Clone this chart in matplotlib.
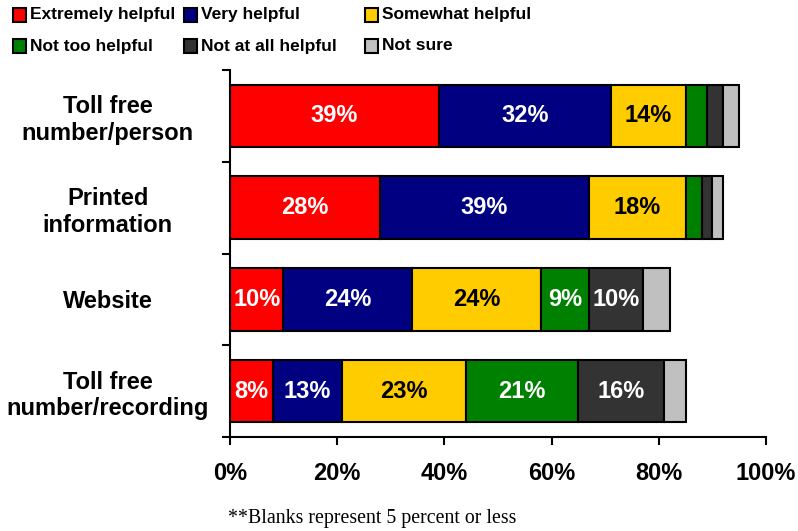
import numpy as np
import matplotlib.pyplot as plt
from matplotlib.patches import Rectangle

plt.rcParams['font.family'] = ['Liberation Sans', 'DejaVu Sans']
plt.rcParams['font.weight'] = 'bold'

categories = ['Toll free\nnumber/person', 'Printed\ninformation', 'Website',
              'Toll free\nnumber/recording']
levels = ['Extremely helpful', 'Very helpful', 'Somewhat helpful',
          'Not too helpful', 'Not at all helpful', 'Not sure']
colors = ['#FF0000', '#000080', '#FFCC00', '#008000', '#333333', '#C0C0C0']
text_colors = ['white', 'white', 'black', 'white', 'white', 'black']

# percent per response level, one entry per category
extremely = [39, 28, 10, 8]
very = [32, 39, 24, 13]
somewhat = [14, 18, 24, 23]
not_too = [4, 3, 9, 21]
not_at_all = [3, 2, 10, 16]
not_sure = [3, 2, 5, 4]

series = [extremely, very, somewhat, not_too, not_at_all, not_sure]
xticks = [0, 20, 40, 60, 80, 100]

W, H = 798, 531
fig = plt.figure(figsize=(W / 100, H / 100), dpi=100)
ax = fig.add_axes([0.288, 0.177, 0.672, 0.691])

y = np.arange(len(categories))
left = np.zeros(len(categories))
for vals, col, tcol in zip(series, colors, text_colors):
    vals = np.array(vals, dtype=float)
    ax.barh(y, vals, left=left, height=0.68, color=col,
            edgecolor='black', linewidth=1.5)
    for yi, (l, v) in enumerate(zip(left, vals)):
        if v > 5:
            ax.text(l + v / 2, yi, f'{int(v)}%', ha='center', va='center',
                    color=tcol, fontsize=17, fontweight='bold')
    left += vals

ax.set_xlim(0, 100)
ax.set_ylim(len(categories) - 0.5, -0.5)
ax.set_xticks(xticks)
ax.set_xticklabels([f'{v}%' for v in xticks], fontsize=17, fontweight='bold')
ax.set_yticks(y)
ax.set_yticklabels(categories, fontsize=17, fontweight='bold',
                   linespacing=1.2, ha='center')
ax.set_yticks(np.arange(-0.5, len(categories)), minor=True)
ax.tick_params(axis='y', which='major', length=0, pad=88)
ax.tick_params(axis='y', which='minor', length=6, width=1.5)
ax.tick_params(axis='x', length=6, width=1.5, pad=12)

# delete right up frame
ax.spines['top'].set_visible(False)
ax.spines['right'].set_visible(False)
ax.spines['left'].set_linewidth(1.5)
ax.spines['bottom'].set_linewidth(1.5)

# legend laid out in fixed columns, two rows
col_x = [13, 184, 365]
row_y = [15, 46]
for i, (lab, col) in enumerate(zip(levels, colors)):
    x0 = col_x[i % 3]
    yc = row_y[i // 3]
    fig.patches.append(Rectangle((x0 / W, (H - yc - 7) / H), 13 / W, 14 / H,
                                 transform=fig.transFigure, facecolor=col,
                                 edgecolor='black', linewidth=1.5))
    fig.text((x0 + 17) / W, (H - yc) / H, lab, va='center', ha='left',
             fontsize=12.5, fontweight='bold')

fig.text(0.286, 0.016, '**Blanks represent 5 percent or less',
         fontsize=14.3, fontweight='normal', family='Liberation Serif')

fig.savefig('out.png', dpi=100)
